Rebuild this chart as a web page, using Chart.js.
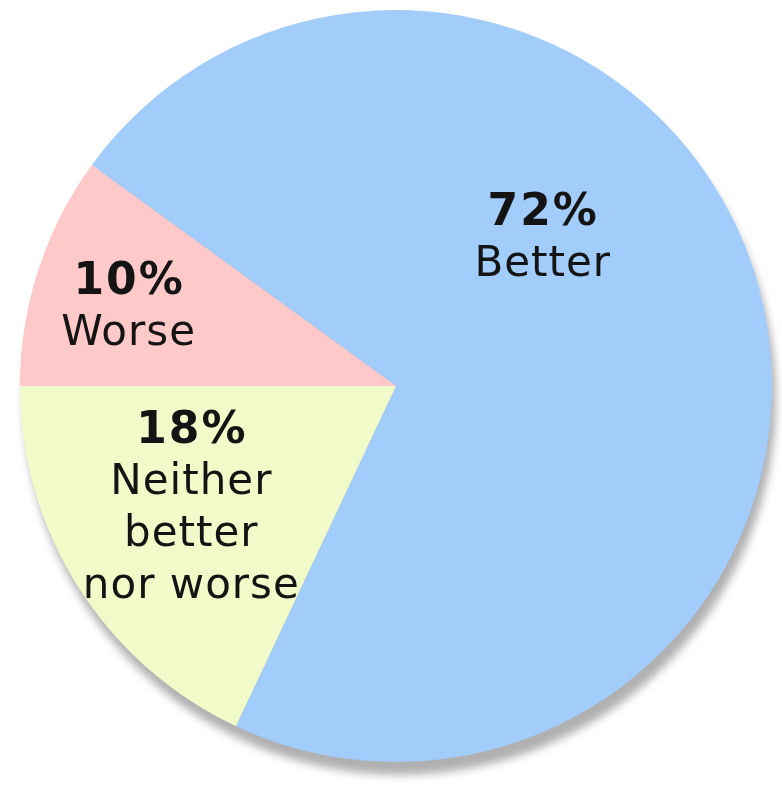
<!DOCTYPE html>
<html>
<head>
<meta charset="utf-8">
<script src="https://cdn.jsdelivr.net/npm/chart.js@4"></script>
<style>
  html, body { margin: 0; padding: 0; background: #fff; }
  #pie { display: block; }
</style>
</head>
<body>
<canvas id="pie" width="782" height="788"></canvas>
<script>
// slice order goes clockwise starting from the upper-left edge
const labels = ["Better", "Neither better nor worse", "Worse"];
const values = [72, 18, 10];
const labelLines = [["Better"], ["Neither", "better", "nor worse"], ["Worse"]];
const colors = ["#a2ccfa", "#f1fac9", "#ffc9c9"];

// where each slice's text block sits: angle (deg, canvas) and fraction of radius
const labelSpots = [
  { angle: 314, dist: 0.56 },
  { angle: 150, dist: 0.63 },
  { angle: 197, dist: 0.745 },
];

const shadowPlugin = {
  id: "shadow",
  beforeDatasetsDraw(chart) {
    const arc = chart.getDatasetMeta(0).data[0];
    if (!arc) return;
    const ctx = chart.ctx;
    ctx.save();
    ctx.filter = "blur(4px)";
    ctx.fillStyle = "rgba(150,150,150,0.75)";
    ctx.beginPath();
    ctx.arc(arc.x + 4, arc.y + 13, arc.outerRadius, 0, Math.PI * 2);
    ctx.fill();
    ctx.restore();
  },
};

const textPlugin = {
  id: "sliceText",
  afterDatasetsDraw(chart) {
    const meta = chart.getDatasetMeta(0);
    const ctx = chart.ctx;
    const lineH = 52;
    meta.data.forEach((arc, i) => {
      const spot = labelSpots[i];
      const a = spot.angle * Math.PI / 180;
      const cx = arc.x + Math.cos(a) * arc.outerRadius * spot.dist;
      const cy = arc.y + Math.sin(a) * arc.outerRadius * spot.dist;
      const lines = [values[i] + "%"].concat(labelLines[i]);
      const top = cy - (lines.length - 1) * lineH / 2;
      ctx.save();
      ctx.fillStyle = "#141414";
      ctx.textAlign = "center";
      ctx.textBaseline = "alphabetic";
      lines.forEach((t, k) => {
        const bold = k === 0;
        const size = bold ? 44 : 42;
        const sp = bold ? 2 : 1;
        ctx.font = (bold ? "bold " : "") + size + "px 'DejaVu Sans', Verdana, sans-serif";
        ctx.letterSpacing = sp + "px";
        ctx.fillText(t, cx + sp / 2, top + k * lineH + size * 0.73 / 2);
      });
      ctx.restore();
    });
  },
};

new Chart(document.getElementById("pie"), {
  type: "pie",
  data: {
    labels: labels,
    datasets: [{
      data: values,
      backgroundColor: colors,
      borderWidth: 0,
    }],
  },
  options: {
    responsive: false,
    animation: false,
    rotation: 306,
    layout: { padding: { left: 20, right: 10, top: 10, bottom: 26 } },
    plugins: {
      legend: { display: false },
      tooltip: { enabled: false },
    },
  },
  plugins: [shadowPlugin, textPlugin],
});
</script>
</body>
</html>
